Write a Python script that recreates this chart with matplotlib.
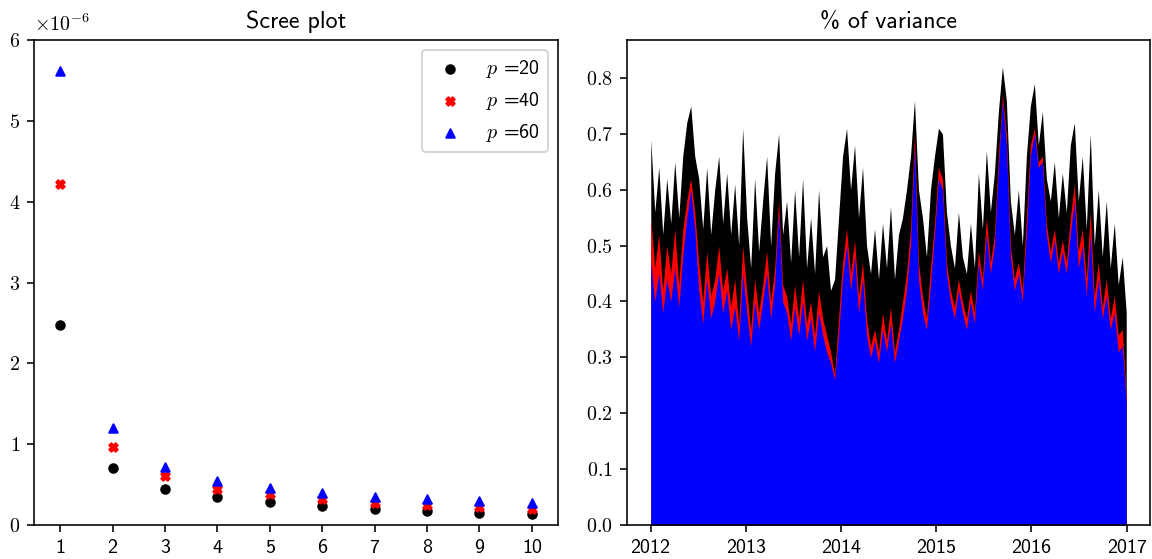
import numpy as np
import pandas as pd
import matplotlib
matplotlib.use('Agg')
import matplotlib.pyplot as plt
import matplotlib.dates as mdates
from matplotlib.ticker import FuncFormatter

plt.rcParams['font.family'] = ['cmss10', 'DejaVu Sans']
plt.rcParams['mathtext.fontset'] = 'cm'
plt.rcParams['axes.unicode_minus'] = False

# scree plot 데이터 (eigenvalues)
components = [1, 2, 3, 4, 5, 6, 7, 8, 9, 10]
eig_p20 = [2.47e-6, 0.70e-6, 0.45e-6, 0.342e-6, 0.28e-6, 0.235e-6, 0.20e-6, 0.173e-6, 0.152e-6, 0.136e-6]
eig_p40 = [4.22e-6, 0.965e-6, 0.606e-6, 0.445e-6, 0.38e-6, 0.318e-6, 0.268e-6, 0.247e-6, 0.219e-6, 0.198e-6]
eig_p60 = [5.62e-6, 1.20e-6, 0.714e-6, 0.544e-6, 0.454e-6, 0.40e-6, 0.35e-6, 0.318e-6, 0.293e-6, 0.268e-6]

# % of variance (semi-monthly, 2012-2016)
var_p20 = [0.69, 0.56, 0.64, 0.52, 0.62, 0.54, 0.65, 0.55, 0.66, 0.72, 0.75, 0.66,
           0.62, 0.53, 0.64, 0.52, 0.60, 0.66, 0.54, 0.63, 0.52, 0.61, 0.50, 0.71,
           0.55, 0.46, 0.62, 0.49, 0.58, 0.66, 0.50, 0.63, 0.70, 0.52, 0.58, 0.47,
           0.60, 0.48, 0.62, 0.46, 0.55, 0.45, 0.60, 0.48, 0.50, 0.42, 0.44, 0.55,
           0.66, 0.71, 0.60, 0.68, 0.55, 0.64, 0.50, 0.45, 0.53, 0.44, 0.54, 0.46,
           0.57, 0.44, 0.52, 0.55, 0.60, 0.66, 0.76, 0.60, 0.55, 0.48, 0.60, 0.66,
           0.71, 0.70, 0.56, 0.50, 0.46, 0.56, 0.48, 0.45, 0.54, 0.46, 0.63, 0.53,
           0.67, 0.56, 0.63, 0.74, 0.82, 0.76, 0.58, 0.52, 0.60, 0.50, 0.66, 0.75,
           0.79, 0.68, 0.74, 0.62, 0.58, 0.65, 0.55, 0.63, 0.56, 0.68, 0.72, 0.58,
           0.66, 0.53, 0.70, 0.50, 0.60, 0.48, 0.58, 0.46, 0.54, 0.43, 0.48, 0.38]
var_p40 = [0.55, 0.46, 0.52, 0.42, 0.50, 0.45, 0.53, 0.43, 0.53, 0.58, 0.62, 0.56,
           0.47, 0.40, 0.49, 0.41, 0.44, 0.50, 0.42, 0.46, 0.39, 0.44, 0.36, 0.50,
           0.42, 0.35, 0.44, 0.38, 0.43, 0.49, 0.40, 0.46, 0.58, 0.43, 0.41, 0.36,
           0.43, 0.37, 0.44, 0.36, 0.40, 0.34, 0.42, 0.37, 0.34, 0.31, 0.27, 0.37,
           0.47, 0.53, 0.45, 0.51, 0.41, 0.47, 0.37, 0.32, 0.35, 0.31, 0.38, 0.33,
           0.39, 0.31, 0.35, 0.40, 0.45, 0.53, 0.70, 0.47, 0.41, 0.37, 0.46, 0.54,
           0.64, 0.62, 0.47, 0.42, 0.39, 0.44, 0.40, 0.37, 0.42, 0.38, 0.49, 0.44,
           0.55, 0.47, 0.52, 0.66, 0.77, 0.70, 0.50, 0.44, 0.47, 0.42, 0.55, 0.68,
           0.71, 0.65, 0.66, 0.54, 0.49, 0.53, 0.47, 0.51, 0.47, 0.55, 0.61, 0.49,
           0.53, 0.44, 0.56, 0.41, 0.47, 0.39, 0.44, 0.37, 0.41, 0.34, 0.35, 0.23]
var_p60 = [0.47, 0.40, 0.45, 0.38, 0.44, 0.40, 0.46, 0.39, 0.48, 0.55, 0.60, 0.53,
           0.42, 0.36, 0.44, 0.37, 0.40, 0.45, 0.38, 0.42, 0.35, 0.39, 0.33, 0.45,
           0.38, 0.32, 0.40, 0.35, 0.40, 0.45, 0.37, 0.43, 0.56, 0.40, 0.38, 0.33,
           0.39, 0.34, 0.40, 0.33, 0.37, 0.31, 0.38, 0.34, 0.31, 0.29, 0.26, 0.34,
           0.44, 0.50, 0.42, 0.48, 0.38, 0.44, 0.34, 0.30, 0.33, 0.29, 0.35, 0.31,
           0.36, 0.29, 0.33, 0.37, 0.42, 0.50, 0.68, 0.44, 0.38, 0.35, 0.43, 0.52,
           0.62, 0.60, 0.45, 0.40, 0.37, 0.42, 0.38, 0.35, 0.40, 0.36, 0.47, 0.42,
           0.52, 0.45, 0.50, 0.64, 0.76, 0.68, 0.48, 0.42, 0.45, 0.40, 0.52, 0.66,
           0.70, 0.64, 0.65, 0.52, 0.47, 0.51, 0.45, 0.49, 0.45, 0.52, 0.58, 0.46,
           0.50, 0.41, 0.52, 0.38, 0.44, 0.37, 0.41, 0.35, 0.38, 0.31, 0.32, 0.22]
dates = pd.date_range('2012-01-02', '2016-12-30', periods=len(var_p20))

fig = plt.figure(figsize=(8, 559 / 144), dpi=144)
ax1 = fig.add_axes([34 / 1152, 1 - 525 / 559, (558 - 34) / 1152, (525 - 40) / 559])
ax2 = fig.add_axes([627 / 1152, 1 - 525 / 559, (1150 - 627) / 1152, (525 - 40) / 559])

# 왼쪽: scree plot
ax1.scatter(components, eig_p20, s=18, c='k', marker='o', label=r'$p$ =20')
ax1.scatter(components, eig_p40, s=18, c='r', marker='X', label=r'$p$ =40')
ax1.scatter(components, eig_p60, s=18, c='b', marker='^', label=r'$p$ =60')
ax1.set_xlim(0.5, 10.5)
ax1.set_ylim(0, 6e-6)
ax1.set_xticks(components)
ax1.set_yticks(np.arange(0, 7) * 1e-6)
ax1.yaxis.set_major_formatter(FuncFormatter(lambda v, _: f'${v * 1e6:.0f}$'))
ax1.text(0.0, 1.01, r'$\times10^{-6}$', transform=ax1.transAxes, ha='left', va='bottom')
ax1.set_title('Scree plot')
ax1.legend(loc='upper right')

# 오른쪽: % of variance
ax2.fill_between(dates, var_p20, color='k', lw=0)
ax2.fill_between(dates, var_p40, color='r', lw=0)
ax2.fill_between(dates, var_p60, color='b', lw=0)
ax2.set_ylim(0, 0.868)
ax2.set_yticks(np.arange(0, 0.81, 0.1))
ax2.yaxis.set_major_formatter(FuncFormatter(lambda v, _: f'${v:.1f}$'))
ax2.xaxis.set_major_locator(mdates.YearLocator())
ax2.xaxis.set_major_formatter(mdates.DateFormatter('%Y'))
ax2.set_title('% of variance')

plt.savefig('out.png', dpi=144)
